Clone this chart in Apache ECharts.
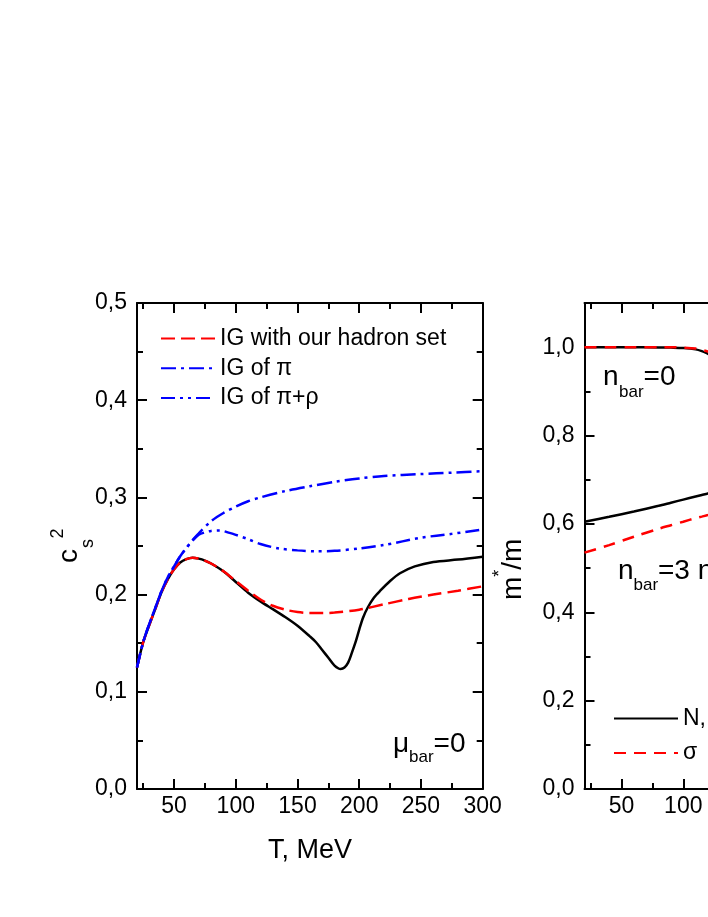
<!DOCTYPE html>
<html>
<head>
<meta charset="utf-8">
<script src="https://cdn.jsdelivr.net/npm/echarts@6/dist/echarts.min.js"></script>
<style>
  html, body { margin: 0; padding: 0; background: #fff; }
  #chart { width: 708px; height: 917px; }
</style>
</head>
<body>
<div id="chart"></div>
<script>
// c_s^2 (left panel)
const T_FULL = [20, 25, 30, 35, 40, 45, 50, 55, 60, 65, 70, 75, 80, 90, 100, 110, 120, 130, 140, 150, 160, 165, 170, 175, 180, 185, 188, 191, 194, 197, 200, 203, 207, 212, 217, 225, 233, 245, 260, 280, 300]
const CS2_FULL = [0.125, 0.151, 0.169, 0.186, 0.203, 0.216, 0.226, 0.233, 0.2365, 0.238, 0.237, 0.235, 0.232, 0.224, 0.213, 0.202, 0.193, 0.185, 0.177, 0.168, 0.157, 0.151, 0.143, 0.135, 0.127, 0.1235, 0.125, 0.130, 0.140, 0.151, 0.164, 0.176, 0.187, 0.197, 0.204, 0.214, 0.222, 0.229, 0.2336, 0.236, 0.239]

const T_IG = [20, 25, 30, 35, 40, 45, 50, 55, 60, 65, 70, 75, 80, 90, 100, 110, 120, 130, 140, 150, 160, 170, 180, 200, 220, 240, 260, 280, 300]
const CS2_IG = [0.125, 0.151, 0.169, 0.186, 0.203, 0.216, 0.226, 0.233, 0.2365, 0.238, 0.237, 0.235, 0.232, 0.224, 0.214, 0.204, 0.195, 0.1885, 0.1845, 0.182, 0.181, 0.181, 0.1815, 0.1845, 0.190, 0.1955, 0.200, 0.204, 0.2085]

const T_PI = [20, 25, 30, 35, 40, 45, 50, 55, 60, 65, 70, 80, 90, 100, 110, 120, 140, 160, 180, 200, 220, 250, 275, 300]
const CS2_PI = [0.125, 0.151, 0.170, 0.187, 0.204, 0.218, 0.229, 0.2395, 0.248, 0.256, 0.263, 0.2755, 0.284, 0.2905, 0.296, 0.300, 0.3065, 0.3115, 0.316, 0.3195, 0.322, 0.324, 0.3255, 0.327]

const T_PIRHO = [20, 25, 30, 35, 40, 45, 50, 55, 60, 65, 70, 75, 80, 87, 95, 100, 110, 120, 135, 150, 165, 180, 200, 220, 250, 275, 300]
const CS2_PIRHO = [0.125, 0.151, 0.170, 0.187, 0.204, 0.218, 0.229, 0.2395, 0.248, 0.2555, 0.2615, 0.264, 0.2655, 0.266, 0.2635, 0.2615, 0.257, 0.252, 0.2475, 0.2455, 0.2446, 0.245, 0.2475, 0.251, 0.2585, 0.2625, 0.267]

// m*/m (right panel, cut off by the picture edge)
const T_MASS = [20, 40, 60, 80, 90, 100, 110, 115, 120, 130]
const M_N_0 = [1.0, 1.0, 1.0, 0.9995, 0.999, 0.998, 0.995, 0.991, 0.985, 0.972]
const M_SIGMA_0 = [1.0, 1.0, 1.0, 1.0, 1.0, 0.999, 0.997, 0.994, 0.990, 0.978]
const M_N_3 = [0.605, 0.616, 0.628, 0.641, 0.648, 0.655, 0.662, 0.6655, 0.669, 0.677]
const M_SIGMA_3 = [0.535, 0.552, 0.571, 0.589, 0.597, 0.605, 0.613, 0.6165, 0.620, 0.628]

// ticks
const X_MAJOR = [50, 100, 150, 200, 250, 300]
const X_MINOR = [25, 75, 125, 175, 225, 275]
const CS_MAJOR = [0, 0.1, 0.2, 0.3, 0.4, 0.5]
const CS_MINOR = [0.05, 0.15, 0.25, 0.35, 0.45]
const M_MAJOR = [0, 0.2, 0.4, 0.6, 0.8, 1.0]
const M_MINOR = [0.1, 0.3, 0.5, 0.7, 0.9]

const FONT = "'Liberation Sans', Arial, sans-serif"
const zip = (xs, ys) => xs.map((x, i) => [x, ys[i]])
const comma = v => v.toFixed(1).replace('.', ',')

// one axis: major (with line + optional labels) or minor (ticks only)
const makeAxis = (kind, grid, position, min, max, values, major, labels) => ({
  type: 'value',
  gridIndex: grid,
  position: position,
  min: min,
  max: max,
  axisLine: { show: major, onZero: false, lineStyle: { color: '#000', width: 2 } },
  axisTick: {
    show: true,
    inside: true,
    length: major ? 10 : 6,
    customValues: values,
    lineStyle: { color: '#000', width: 2 }
  },
  axisLabel: labels ? {
    show: true,
    customValues: values,
    margin: kind === 'x' ? 6 : 10,
    color: '#000',
    fontSize: 23,
    fontFamily: FONT,
    formatter: kind === 'x' ? (v => String(v)) : comma
  } : { show: false },
  splitLine: { show: false }
})

const xAxes = []
const yAxes = []
;[0, 1].forEach(g => {
  xAxes.push(makeAxis('x', g, 'bottom', 20, 300, X_MAJOR, true, true))
  xAxes.push(makeAxis('x', g, 'bottom', 20, 300, X_MINOR, false, false))
  xAxes.push(makeAxis('x', g, 'top', 20, 300, X_MAJOR, true, false))
  xAxes.push(makeAxis('x', g, 'top', 20, 300, X_MINOR, false, false))
})
yAxes.push(makeAxis('y', 0, 'left', 0, 0.5, CS_MAJOR, true, true))
yAxes.push(makeAxis('y', 0, 'left', 0, 0.5, CS_MINOR, false, false))
yAxes.push(makeAxis('y', 0, 'right', 0, 0.5, CS_MAJOR, true, false))
yAxes.push(makeAxis('y', 0, 'right', 0, 0.5, CS_MINOR, false, false))
yAxes.push(makeAxis('y', 1, 'left', 0, 1.1, M_MAJOR, true, true))
yAxes.push(makeAxis('y', 1, 'left', 0, 1.1, M_MINOR, false, false))
yAxes.push(makeAxis('y', 1, 'right', 0, 1.1, M_MAJOR, true, false))
yAxes.push(makeAxis('y', 1, 'right', 0, 1.1, M_MINOR, false, false))

const line = (name, data, color, type, xi, yi, z) => ({
  name: name,
  type: 'line',
  xAxisIndex: xi,
  yAxisIndex: yi,
  data: data,
  symbol: 'none',
  smooth: 0.3,
  z: z,
  itemStyle: { color: color },
  lineStyle: { color: color, width: 2.5, type: type }
})

const DASH = [14, 6]
const DASH_DOT = [15, 5, 3, 5]
const DASH_DOT_DOT = [14, 5, 3, 5, 3, 5]

// text pieces placed by baseline (sub/superscripts need separate pieces)
const txt = (str, x, base, size, align) => ({
  type: 'text',
  x: x,
  y: base - 0.3465 * size,
  style: { text: str, font: size + 'px ' + FONT, fill: '#000', align: align || 'left', verticalAlign: 'middle' }
})
const vtxt = (str, baseX, startY, size) => ({
  type: 'text',
  x: baseX - 0.3465 * size,
  y: startY,
  rotation: Math.PI / 2,
  style: { text: str, font: size + 'px ' + FONT, fill: '#000', align: 'left', verticalAlign: 'middle' }
})

const legendBase = {
  orient: 'vertical',
  itemHeight: 14,
  selectedMode: false,
  itemStyle: { opacity: 0 },
  textStyle: { color: '#000', fontSize: 23, fontFamily: FONT }
}

const chart = echarts.init(document.getElementById('chart'), null, { renderer: 'canvas' })

chart.setOption({
  animation: false,
  backgroundColor: '#fff',
  grid: [
    { left: 137, top: 303, right: 225.3, bottom: 128, outerBoundsMode: 'none', containLabel: false },
    { left: 584.5, top: 303, width: 345.7, bottom: 128, outerBoundsMode: 'none', containLabel: false }
  ],
  xAxis: xAxes,
  yAxis: yAxes,
  legend: [
    Object.assign({}, legendBase, {
      data: ['IG with our hadron set', 'IG of π', 'IG of π+ρ'],
      left: 155,
      top: 322,
      itemWidth: 54,
      itemGap: 6.7
    }),
    Object.assign({}, legendBase, {
      data: ['N,', 'σ'],
      left: 608,
      top: 702,
      itemWidth: 64,
      itemGap: 11.4
    })
  ],
  series: [
    line('full', zip(T_FULL, CS2_FULL), '#000000', 'solid', 0, 0, 2),
    line('IG with our hadron set', zip(T_IG, CS2_IG), '#ff0000', DASH, 0, 0, 3),
    line('IG of π+ρ', zip(T_PIRHO, CS2_PIRHO), '#0000ff', DASH_DOT_DOT, 0, 0, 4),
    line('IG of π', zip(T_PI, CS2_PI), '#0000ff', DASH_DOT, 0, 0, 5),
    line('N,', zip(T_MASS, M_N_0), '#000000', 'solid', 4, 4, 2),
    line('σ', zip(T_MASS, M_SIGMA_0), '#ff0000', [12, 8], 4, 4, 3),
    line('N,', zip(T_MASS, M_N_3), '#000000', 'solid', 4, 4, 2),
    line('σ', zip(T_MASS, M_SIGMA_3), '#ff0000', [12, 8], 4, 4, 3)
  ],
  graphic: [
    // axis titles
    vtxt('c', 79, 563, 28),
    vtxt('s', 94, 548, 18),
    vtxt('2', 64, 538.5, 18),
    txt('T, MeV', 310, 860, 27, 'center'),
    vtxt('m', 523, 600, 28),
    vtxt('*', 506, 576.7, 18),
    vtxt('/m', 523, 569.7, 28),
    // annotations
    txt('μ', 393, 754, 28),
    txt('bar', 409, 763, 17),
    txt('=0', 433.6, 754, 28),
    txt('n', 603, 387, 28),
    txt('bar', 619, 398, 17),
    txt('=0', 643.6, 387, 28),
    txt('n', 618, 581, 28),
    txt('bar', 633.5, 591, 17),
    txt('=3 n', 658, 581, 28),
    txt('0', 713, 591, 17)
  ]
})
</script>
</body>
</html>
